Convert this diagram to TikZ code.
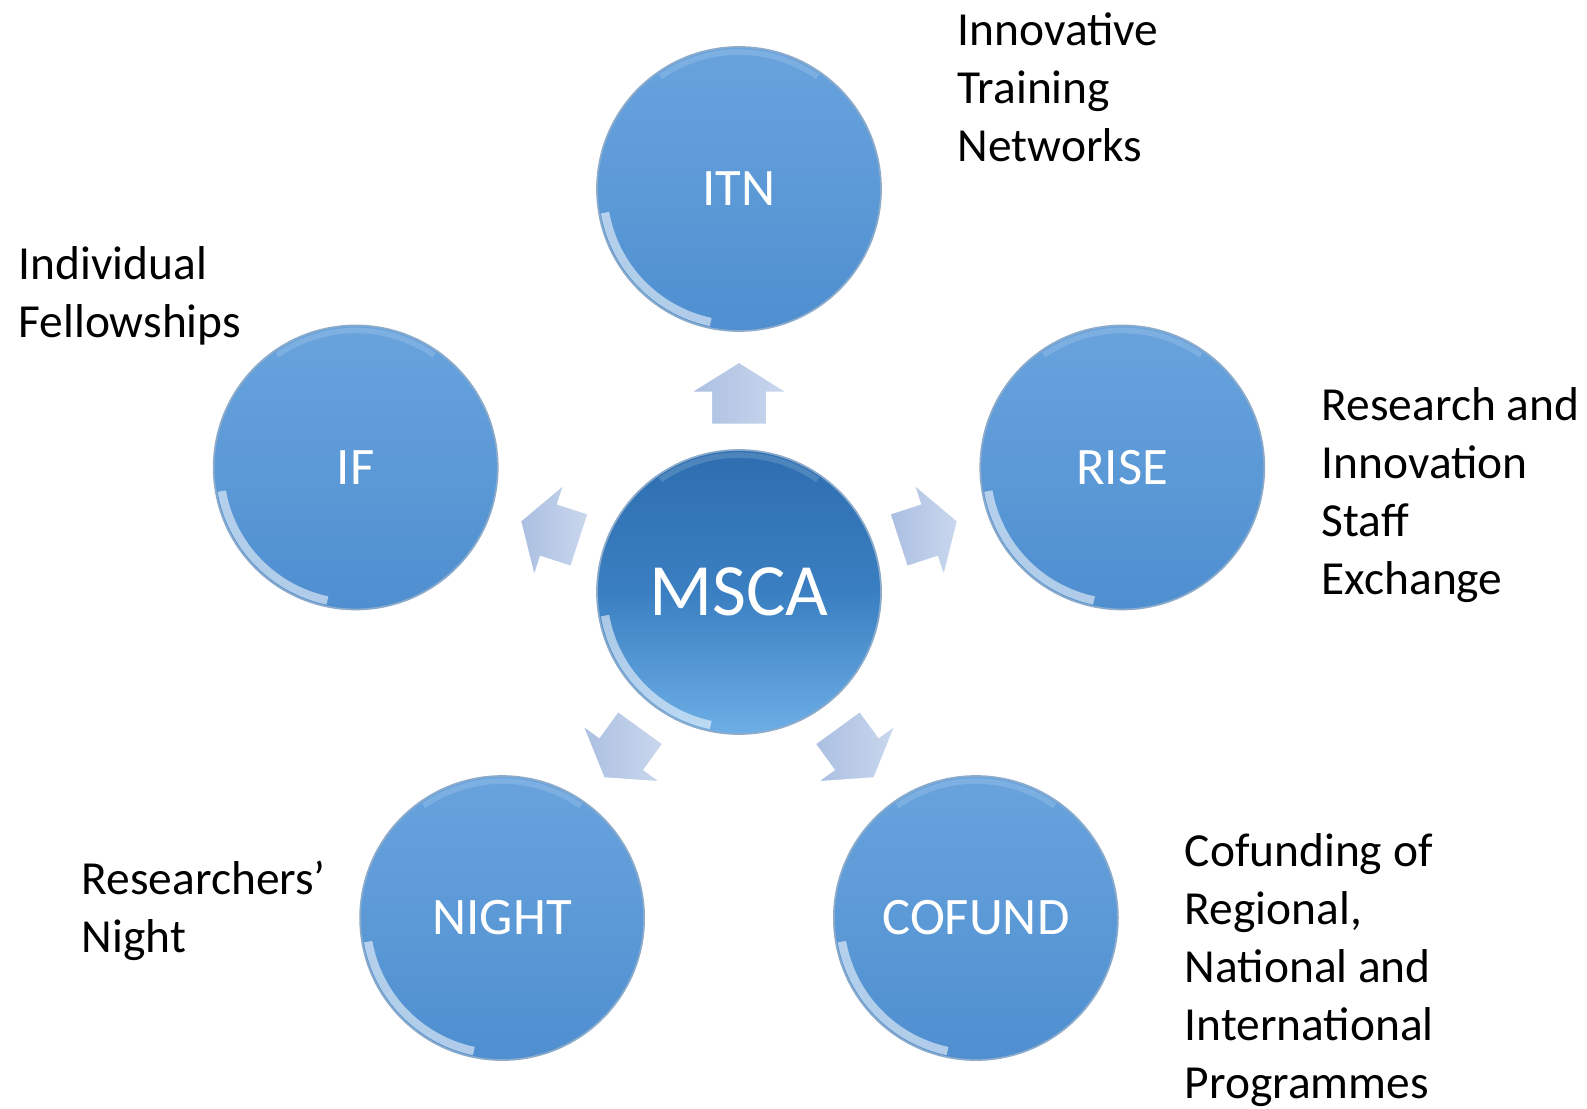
\documentclass[tikz,border=0pt]{standalone}
\usepackage{fontspec}
\setmainfont{Carlito}
\usepackage{tkz-euclide}
\usetikzlibrary{shapes.arrows}
\definecolor{bubbleTop}{HTML}{68A3DD}
\definecolor{bubbleBot}{HTML}{4F8FD0}
\definecolor{hubTop}{HTML}{2E6EB0}
\definecolor{hubMid}{HTML}{3A7FC1}
\definecolor{hubBot}{HTML}{6DAEE6}
\definecolor{rimBlue}{HTML}{3F73A8}
\definecolor{arrowTop}{HTML}{CAD8EE}
\definecolor{arrowBot}{HTML}{ABBFE1}

\tikzset{
  bubble/.style={circle,minimum size=2.84cm,inner sep=0pt,draw=rimBlue!60,
    line width=0.5pt,top color=bubbleTop,bottom color=bubbleBot,text=white,
    font=\fontsize{15}{18}\selectfont,
    path picture={
      \draw[white,opacity=.55,line width=2.4pt]
        (path picture bounding box.center) ++(190:1.36) arc (190:258:1.36);
      \draw[white,opacity=.15,line width=1.6pt]
        (path picture bounding box.center) ++(55:1.37) arc (55:125:1.37);
    }},
  hub/.style={bubble,top color=hubTop,bottom color=hubBot,middle color=hubMid,
    font=\fontsize{21}{25}\selectfont},
  blockarrow/.style={single arrow,draw=white,line width=0.6pt,
    minimum height=0.63cm,minimum width=0.97cm,
    single arrow head extend=0.215cm,single arrow tip angle=116,
    inner xsep=0pt,inner ysep=0.27cm,left color=arrowBot,right color=arrowTop},
  caption/.style={anchor=west,align=left,inner sep=0pt,
    font=\fontsize{13.5}{16.5}\selectfont}
}

\begin{document}
\begin{tikzpicture}

   \useasboundingbox (0,0) rectangle (15.87,11.08);
   \tkzDefPoints{7.39/5.16/M,7.39/9.19/A,7.39/7.06/a}
   \tkzDefPointBy[rotation= center M angle 72](A)
   \tkzGetPoint{B}
   \tkzDefPointBy[rotation= center M angle 144](A)
   \tkzGetPoint{C}
   \tkzDefPointBy[rotation= center M angle 216](A)
   \tkzGetPoint{D}
   \tkzDefPointBy[rotation= center M angle 288](A)
   \tkzGetPoint{E}
   \tkzDefPointBy[rotation= center M angle 72](a)
   \tkzGetPoint{b}
   \tkzDefPointBy[rotation= center M angle 144](a)
   \tkzGetPoint{c}
   \tkzDefPointBy[rotation= center M angle 216](a)
   \tkzGetPoint{d}
   \tkzDefPointBy[rotation= center M angle 288](a)
   \tkzGetPoint{e}

   \node[hub] (msca) at (M) {MSCA};
   \node[bubble] (itn) at (A) {ITN};
   \node[bubble] (if) at (B) {IF};
   \node[bubble] (night) at (C) {NIGHT};
   \node[bubble] (cofund) at (D) {COFUND};
   \node[bubble] (rise) at (E) {RISE};

   \node[blockarrow,rotate=90] (toitn) at (a) {};
   \node[blockarrow,rotate=162] (toif) at (b) {};
   \node[blockarrow,rotate=234] (tonight) at (c) {};
   \node[blockarrow,rotate=306] (tocofund) at (d) {};
   \node[blockarrow,rotate=18] (torise) at (e) {};

   \node[caption] (itntext) at (9.57,10.21) {Innovative\\Training\\Networks};
   \node[caption] (iftext) at (0.18,8.12) {Individual\\Fellowships};
   \node[caption] (risetext) at (13.21,6.13)
      {Research and\\Innovation\\Staff\\Exchange};
   \node[caption] (nighttext) at (0.81,1.97) {Researchers’\\Night};
   \node[caption] (cofundtext) at (11.84,1.38)
      {Cofunding of\\Regional,\\National and\\International\\Programmes};

\end{tikzpicture}
\end{document}
